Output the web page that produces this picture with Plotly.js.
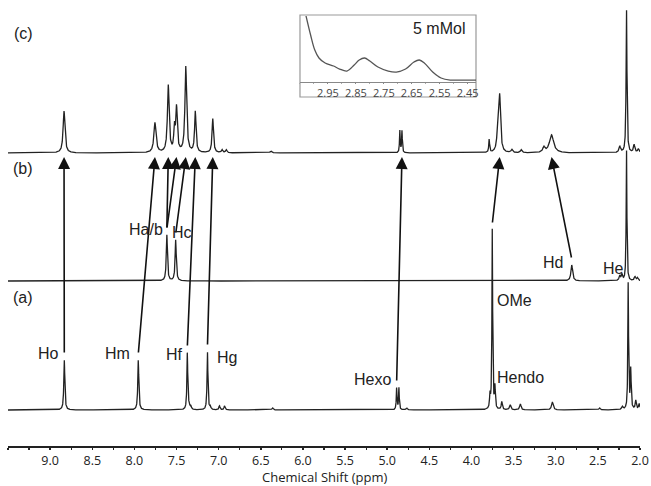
<!DOCTYPE html>
<html>
<head>
<meta charset="utf-8">
<script src="https://cdn.plot.ly/plotly-3.0.1.min.js"></script>
<style>html,body{margin:0;padding:0;background:#fff;}#chart{width:651px;height:486px;}</style>
</head>
<body>
<div id="chart"></div>
<script>
// ---- Data (ppm, peak height in px units, half-width in ppm) ----
const aPos = [8.832, 7.954, 7.372, 7.350, 7.330, 7.133, 7.100, 6.990, 6.930, 6.360, 4.888, 4.861, 4.770, 3.780, 3.753, 3.722, 3.640, 3.540, 3.420, 3.040, 2.480, 2.210, 2.140, 2.110, 2.050, 2.010];
const aHgt = [50, 50, 57, 4, 3, 58, 3, 4, 4, 2, 22, 22, 2, 13, 180, 22, 8, 5, 6, 8, 2, 3, 127, 40, 9, 6];
const aWid = [.007, .007, .006, .008, .008, .006, .008, .008, .008, .01, .005, .005, .01, .006, .005, .006, .008, .01, .01, .012, .01, .01, .005, .006, .008, .008];

const bPos = [7.615, 7.510, 2.810, 2.240, 2.215, 2.160, 2.060, 2.030];
const bHgt = [46, 41, 16, 5, 6, 131, 4, 3];
const bWid = [.008, .008, .012, .01, .008, .005, .01, .01];

const cPos = [8.835, 7.756, 7.598, 7.525, 7.500, 7.390, 7.277, 7.070, 6.960, 6.910, 6.380, 4.850, 4.825, 3.790, 3.685, 3.665, 3.520, 3.410, 3.140, 3.050, 2.240, 2.160, 2.070, 2.020];
const cHgt = [42, 30, 67, 22, 44, 86, 41, 34, 3, 3, 2, 22, 22, 13, 25, 52, 3, 3, 5, 18, 6, 143, 8, 4];
const cWid = [.013, .015, .012, .009, .011, .012, .01, .01, .01, .01, .012, .005, .005, .006, .013, .012, .012, .012, .015, .03, .012, .006, .01, .01];

// arrows: [from spectrum, peak index, peak index in (c)]
const links = [['a', 0, 0], ['a', 1, 1], ['b', 0, 2], ['b', 0, 4], ['b', 1, 5], ['a', 2, 6], ['a', 5, 7], ['a', 10, 12], ['a', 14, 15], ['b', 2, 19]];

// peak labels: [text, ppm, height]
const labelText = ['Ho', 'Hm', 'Hf', 'Hg', 'Hexo', 'Hendo', 'OMe', 'Hd', 'He', 'Ha/b', 'Hc'];
const labelPpm  = [9.025, 8.195, 7.53, 6.90, 5.169, 3.413, 3.484, 3.033, 2.32, 7.862, 7.435];
const labelY    = [93, 93, 92, 89, 67, 69, 146, 184, 178, 217, 214];

const panelText = ['(a)', '(b)', '(c)'];

// inset (5 mMol) curve
const insetX = [3.03, 3.012, 2.997, 2.982, 2.96, 2.93, 2.908, 2.882, 2.856, 2.838, 2.819, 2.80, 2.771, 2.734, 2.705, 2.672, 2.642, 2.623, 2.605, 2.575, 2.545, 2.512, 2.457, 2.42, 2.40];
const insetY = [68, 47, 32, 24, 19, 16, 13, 11, 17, 22, 24, 21, 15, 11, 10, 13, 20, 22, 19, 10, 4, 2, 2, 2, 4];
const insetTicks = [2.95, 2.85, 2.75, 2.65, 2.55, 2.45];
const insetTickText = ['2.95', '2.85', '2.75', '2.65', '2.55', '2.45'];

const mainTicks = [9.0, 8.5, 8.0, 7.5, 7.0, 6.5, 6.0, 5.5, 5.0, 4.5, 4.0, 3.5, 3.0, 2.5, 2.0];
const mainTickText = ['9.0', '8.5', '8.0', '7.5', '7.0', '6.5', '6.0', '5.5', '5.0', '4.5', '4.0', '3.5', '3.0', '2.5', '2.0'];
const xTitle = 'Chemical Shift (ppm)';

// ---- layout constants ----
const base = {a: 36, b: 165, c: 293};
const spec = {a: [aPos, aHgt, aWid], b: [bPos, bHgt, bWid], c: [cPos, cHgt, cWid]};
const lineCol = '#222';

const grid = [];
for (let x = 9.5; x >= 1.999; x -= 0.0012) grid.push(+x.toFixed(4));

function spectrum(key) {
  const [p, h, w] = spec[key];
  return grid.map(x => {
    let s = 0;
    for (let i = 0; i < p.length; i++) { const d = (x - p[i]) / w[i]; s += h[i] / (1 + d * d); }
    return base[key] + s;
  });
}

const traces = ['a', 'b', 'c'].map(k => ({
  x: grid, y: spectrum(k), type: 'scatter', mode: 'lines',
  line: {color: lineCol, width: 1.3}, hoverinfo: 'skip', showlegend: false
}));
traces.push({
  x: insetX, y: insetY, xaxis: 'x2', yaxis: 'y2', type: 'scatter', mode: 'lines',
  line: {color: '#555', width: 1.3, shape: 'spline', smoothing: 1}, hoverinfo: 'skip', showlegend: false
});

const annotations = [];
links.forEach(([k, i, j]) => {
  const [p, h] = spec[k];
  annotations.push({
    xref: 'x', yref: 'y', axref: 'x', ayref: 'y',
    x: cPos[j], y: base.c - 4, ax: p[i], ay: base[k] + h[i] + 6,
    text: '', showarrow: true, arrowhead: 2, arrowsize: 1.5, arrowwidth: 1.6, arrowcolor: '#111', standoff: 0, startstandoff: 0
  });
});
labelText.forEach((t, i) => annotations.push({
  xref: 'x', yref: 'y', x: labelPpm[i], y: labelY[i], text: t, showarrow: false,
  font: {family: 'Liberation Sans, Arial, sans-serif', size: 16, color: '#222'}
}));
['a', 'b', 'c'].forEach((k, i) => annotations.push({
  xref: 'x', yref: 'y', x: 9.322, y: [149, 278, 413][i], text: panelText[i], showarrow: false,
  font: {family: 'Liberation Sans, Arial, sans-serif', size: 16, color: '#222'}
}));
annotations.push({
  xref: 'x', yref: 'y', x: 4.385, y: 418, text: '5 mMol', showarrow: false,
  font: {family: 'Liberation Sans, Arial, sans-serif', size: 16, color: '#222'}
});
// x-axis title
annotations.push({
  xref: 'paper', yref: 'paper', x: 0.5, y: -0.0715, yanchor: 'middle', text: xTitle, showarrow: false,
  font: {family: 'Open Sans, sans-serif', size: 13, color: '#222'}, borderpad: 0
});

const layout = {
  width: 651, height: 486,
  margin: {l: 8, r: 11, t: 8, b: 40},
  paper_bgcolor: '#fff', plot_bgcolor: 'rgba(0,0,0,0)',
  showlegend: false,
  xaxis: {
    range: [9.5, 2.0], showgrid: false, zeroline: false,
    showline: true, linecolor: lineCol, linewidth: 2,
    tickmode: 'array', tickvals: mainTicks, ticktext: mainTickText,
    ticks: 'outside', ticklen: 2, tickwidth: 1.5, tickcolor: lineCol,
    minor: {tickmode: 'linear', tick0: 2.0, dtick: 0.25, ticks: 'outside', ticklen: 2, tickwidth: 1.2, tickcolor: lineCol},
    tickfont: {family: 'Open Sans, sans-serif', size: 12.5, color: '#222'},
    automargin: false, fixedrange: true
  },
  yaxis: {range: [0, 438], visible: false, fixedrange: true},
  xaxis2: {
    domain: [0.462, 0.7405], anchor: 'y2', range: [3.05, 2.42],
    showgrid: false, zeroline: false, showline: true, linecolor: '#888', linewidth: 1,
    tickmode: 'array', tickvals: insetTicks, ticktext: insetTickText,
    ticks: 'outside', ticklen: 1, tickcolor: '#888',
    minor: {tickmode: 'linear', tick0: 2.45, dtick: 0.05, ticks: 'outside', ticklen: 1, tickcolor: '#aaa'},
    tickfont: {family: 'Open Sans, sans-serif', size: 11, color: '#444'},
    automargin: false
  },
  yaxis2: {domain: [0.831, 0.9817], anchor: 'x2', range: [0, 66], visible: false},
  shapes: [{
    type: 'rect', xref: 'paper', yref: 'paper', x0: 0.462, x1: 0.7405, y0: 0.7968, y1: 0.984,
    line: {color: '#999', width: 1.2}, fillcolor: '#fff', layer: 'below'
  }],
  annotations: annotations
};

Plotly.newPlot('chart', traces, layout, {staticPlot: true, displayModeBar: false});
</script>
</body>
</html>
